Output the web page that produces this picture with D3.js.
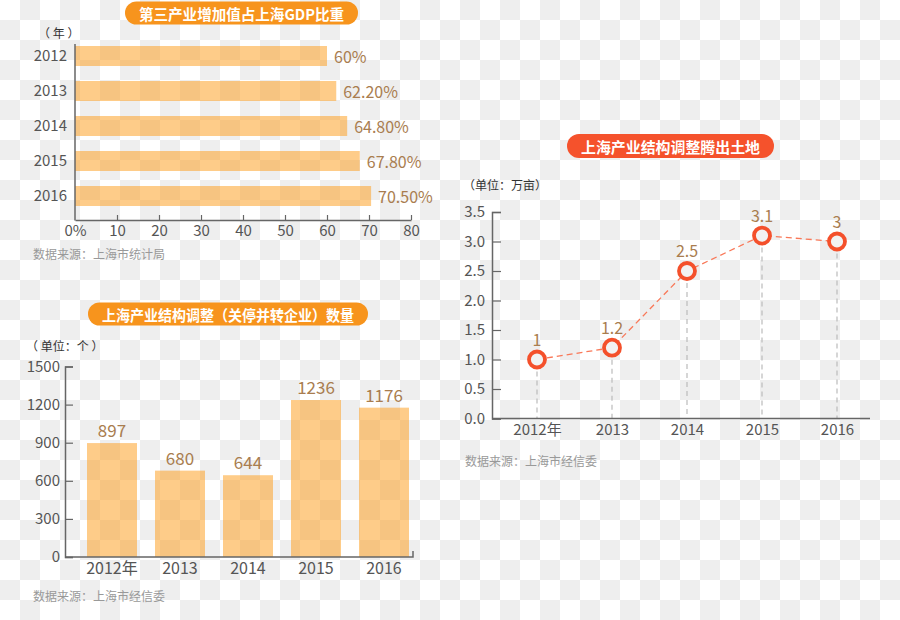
<!DOCTYPE html>
<html><head><meta charset="utf-8">
<script src="https://cdn.jsdelivr.net/npm/d3@7/dist/d3.min.js"></script>
<style>
html,body{margin:0;padding:0;background:#fff;}
svg{display:block;font-family:"Noto Sans CJK SC","Noto Sans",sans-serif;}
</style></head>
<body><svg id="c" width="900" height="620"></svg>
<script>
// ---- data ----
const gdpYears = ["2012","2013","2014","2015","2016"];
const gdpShare = [60, 62.2, 64.8, 67.8, 70.5];
const gdpLabels = ["60%","62.20%","64.80%","67.80%","70.50%"];
const gdpTicks = [0,10,20,30,40,50,60,70,80];

const entYears = ["2012年","2013","2014","2015","2016"];
const entCount = [897, 680, 644, 1236, 1176];
const entTicks = [0,300,600,900,1200,1500];

const landYears = ["2012年","2013","2014","2015","2016"];
const landArea = [1, 1.2, 2.5, 3.1, 3];
const landLabels = ["1","1.2","2.5","3.1","3"];
const landTicks = [0,0.5,1,1.5,2,2.5,3,3.5];

const svg = d3.select("#c");
// checkerboard background
const defs = svg.append("defs");
const pat = defs.append("pattern").attr("id","chk").attr("width",40).attr("height",40).attr("patternUnits","userSpaceOnUse");
pat.append("rect").attr("width",40).attr("height",40).attr("fill","#ffffff");
pat.append("rect").attr("x",20).attr("y",0).attr("width",20).attr("height",20).attr("fill","#eeeeee");
pat.append("rect").attr("x",0).attr("y",20).attr("width",20).attr("height",20).attr("fill","#eeeeee");
svg.append("rect").attr("width",900).attr("height",620).attr("fill","url(#chk)");

const axisCol = "#666", labCol = "#555", valCol = "#a97d4f", srcCol = "#999";
const barFill = "#fd9a14", barOp = 0.5;
const numFont = "'Noto Sans CJK SC','Noto Sans',sans-serif";

function pill(cx, cy, text, color, w, h){
  const g = svg.append("g");
  g.append("rect").attr("fill", color)
    .attr("x",cx-w/2).attr("y",cy-h/2).attr("width",w).attr("height",h).attr("rx",h/2);
  const t = g.append("text").attr("x",cx).attr("y",cy).attr("text-anchor","middle")
    .attr("dominant-baseline","central").attr("fill","#fff").attr("font-size",15).attr("font-weight","bold").text(text);
  const tw = t.node().getComputedTextLength();
  if (tw > w - 28) t.attr("textLength", w - 28).attr("lengthAdjust","spacingAndGlyphs");
}
function styleAxis(g, size){
  g.selectAll("path.domain").attr("stroke",axisCol).attr("stroke-width",1.5);
  g.selectAll(".tick line").attr("stroke",axisCol).attr("stroke-width",1.2);
  g.selectAll(".tick text").attr("fill",labCol).attr("font-size",size).attr("font-family",numFont);
}

// ===== Chart 1: horizontal bars =====
pill(241.5, 13, "第三产业增加值占上海GDP比重", "#f7941d", 233, 23);
svg.append("text").attr("x",38).attr("y",38).attr("font-size",12).attr("fill","#333").text("（ 年 ）");
const x1 = d3.scaleLinear().domain([0,80]).range([75,411]);
const y1 = d3.scaleBand().domain(gdpYears).range([38.5,213.5]).paddingInner(15/35).paddingOuter(7.5/35);
svg.append("g").selectAll("rect").data(gdpYears).join("rect")
  .attr("x", x1(0)).attr("y", d=>y1(d)).attr("height", y1.bandwidth())
  .attr("width", (d,i)=>x1(gdpShare[i])-x1(0)).attr("fill",barFill).attr("opacity",barOp);
svg.append("g").selectAll("text").data(gdpYears).join("text")
  .attr("x",(d,i)=>x1(gdpShare[i])+7).attr("y",d=>y1(d)+y1.bandwidth()/2)
  .attr("dominant-baseline","central").attr("fill",valCol).attr("font-size",16).attr("font-family",numFont)
  .text((d,i)=>gdpLabels[i]);
const ax1 = svg.append("g").attr("transform","translate(0,220)")
  .call(d3.axisBottom(x1).tickValues(gdpTicks).tickSizeInner(-5).tickSizeOuter(0).tickPadding(5)
    .tickFormat(d=>d===0?"0%":d));
styleAxis(ax1, 15);
ax1.selectAll(".tick").filter(d=>d===0).select("line").remove();
const ay1 = svg.append("g").attr("transform","translate(75,0)")
  .call(d3.axisLeft(y1).tickSize(0).tickPadding(8));
styleAxis(ay1, 15);
ay1.select("path.domain").remove();
svg.append("line").attr("x1",75).attr("x2",75).attr("y1",44).attr("y2",220.5).attr("stroke",axisCol).attr("stroke-width",1.5);
svg.append("text").attr("x",33).attr("y",259).attr("font-size",12).attr("fill",srcCol).text("数据来源：上海市统计局");

// ===== Chart 2: vertical bars =====
pill(228, 314, "上海产业结构调整（关停并转企业）数量", "#f7941d", 280, 23);
svg.append("text").attr("x",26).attr("y",351).attr("font-size",12).attr("fill","#333").text("（ 单位：个 ）");
const x2 = d3.scaleBand().domain(entYears).range([78,418]).paddingInner(18/68).paddingOuter(9/68);
const y2 = d3.scaleLinear().domain([0,1500]).range([557,366.5]);
svg.append("g").selectAll("rect").data(entYears).join("rect")
  .attr("x", d=>x2(d)).attr("width", x2.bandwidth())
  .attr("y", (d,i)=>y2(entCount[i])).attr("height",(d,i)=>y2(0)-y2(entCount[i]))
  .attr("fill",barFill).attr("opacity",barOp);
svg.append("g").selectAll("text").data(entYears).join("text")
  .attr("x", d=>x2(d)+x2.bandwidth()/2).attr("y",(d,i)=>y2(entCount[i])-6)
  .attr("text-anchor","middle").attr("fill",valCol).attr("font-size",17).attr("font-family",numFont)
  .text((d,i)=>entCount[i]);
const ay2 = svg.append("g").attr("transform","translate(65,0)")
  .call(d3.axisLeft(y2).tickValues(entTicks).tickSizeInner(-8).tickSizeOuter(-8).tickPadding(5).tickFormat(d3.format("d")));
styleAxis(ay2, 15);
const ax2 = svg.append("g").attr("transform","translate(0,557)")
  .call(d3.axisBottom(x2).tickSize(0).tickPadding(6));
styleAxis(ax2, 16);
ax2.select("path.domain").attr("d","M65,0H413V-6");
svg.append("text").attr("x",33).attr("y",601).attr("font-size",12).attr("fill",srcCol).text("数据来源：上海市经信委");

// ===== Chart 3: line =====
pill(670.5, 146, "上海产业结构调整腾出土地", "#f5522c", 207, 24);
svg.append("text").attr("x",463).attr("y",190).attr("font-size",12).attr("fill","#333").text("（单位：万亩）");
const x3 = d3.scalePoint().domain(landYears).range([537,837]);
const y3 = d3.scaleLinear().domain([0,3.5]).range([418.5,212]);
// vertical dashed guides
svg.append("g").selectAll("line").data(landYears).join("line")
  .attr("x1",d=>x3(d)).attr("x2",d=>x3(d))
  .attr("y1",(d,i)=>y3(landArea[i])+12).attr("y2",y3(0))
  .attr("stroke","#bbbbbb").attr("stroke-width",1.2).attr("stroke-dasharray","5,4");
const ay3 = svg.append("g").attr("transform","translate(492,0)")
  .call(d3.axisLeft(y3).tickValues(landTicks).tickSizeInner(-9).tickSizeOuter(-9).tickPadding(7).tickFormat(d3.format(".1f")));
styleAxis(ay3, 15);
const ax3 = svg.append("g").attr("transform","translate(0,418.5)")
  .call(d3.axisBottom(x3).tickSize(0).tickPadding(6));
styleAxis(ax3, 15);
ax3.select("path.domain").attr("d","M492,0H870");
const line3 = d3.line().x((d,i)=>x3(landYears[i])).y(d=>y3(d));
svg.append("path").attr("d", line3(landArea)).attr("fill","none")
  .attr("stroke","#f97858").attr("stroke-width",1.3).attr("stroke-dasharray","6,4");
svg.append("g").selectAll("circle").data(landArea).join("circle")
  .attr("cx",(d,i)=>x3(landYears[i])).attr("cy",d=>y3(d)).attr("r",8)
  .attr("fill","#f2f2f2").attr("stroke","#f4502b").attr("stroke-width",3.8);
svg.append("g").selectAll("text").data(landArea).join("text")
  .attr("x",(d,i)=>x3(landYears[i])).attr("y",d=>y3(d)-14)
  .attr("text-anchor","middle").attr("fill",valCol).attr("font-size",16).attr("font-family",numFont)
  .text((d,i)=>landLabels[i]);
svg.append("text").attr("x",465).attr("y",466).attr("font-size",12).attr("fill",srcCol).text("数据来源：上海市经信委");
</script></body></html>
